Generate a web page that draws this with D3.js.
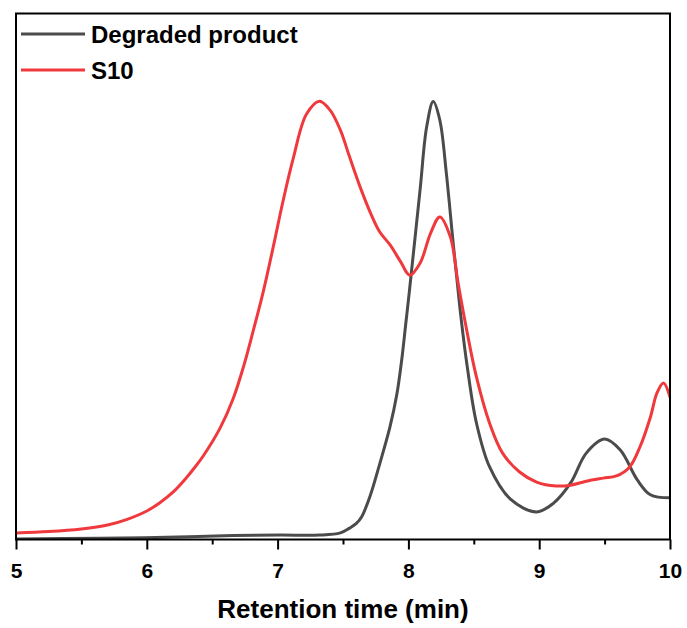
<!DOCTYPE html>
<html>
<head>
<meta charset="utf-8">
<script src="https://cdn.jsdelivr.net/npm/d3@7"></script>
<style>
  html, body { margin: 0; padding: 0; background: #fff; }
  svg { display: block; }
  text { font-family: "Liberation Sans", Arial, sans-serif; font-weight: bold; fill: #000; }
</style>
</head>
<body>
<svg id="chart" width="687" height="628"></svg>
<script>
// ---- Data ----
const seriesNames = ["Degraded product", "S10"];
const seriesColors = ["#4b4b4b", "#f0393c"];

const degradedTime = [5.00, 5.64, 6.15, 6.66, 7.02, 7.32, 7.48, 7.55, 7.60, 7.643, 7.706, 7.783, 7.859, 7.911, 7.949, 7.979, 8.007, 8.089, 8.14, 8.19, 8.24, 8.29, 8.34, 8.37, 8.40, 8.45, 8.52, 8.62, 8.78, 8.98, 9.11, 9.24, 9.36, 9.50, 9.62, 9.75, 9.85, 10.00];
const degradedSignal = [0.001, 0.003, 0.005, 0.009, 0.010, 0.010, 0.015, 0.026, 0.036, 0.052, 0.098, 0.175, 0.257, 0.330, 0.410, 0.490, 0.565, 0.797, 0.942, 0.999, 0.957, 0.836, 0.683, 0.597, 0.512, 0.394, 0.266, 0.166, 0.092, 0.063, 0.083, 0.129, 0.197, 0.229, 0.204, 0.136, 0.102, 0.095];

const s10Time = [5.00, 5.25, 5.50, 5.70, 5.85, 6.00, 6.10, 6.20, 6.30, 6.36, 6.43, 6.56, 6.66, 6.74, 6.81, 6.89, 6.97, 7.04, 7.12, 7.22, 7.32, 7.40, 7.48, 7.55, 7.63, 7.71, 7.78, 7.86, 7.94, 8.01, 8.09, 8.17, 8.24, 8.32, 8.38, 8.45, 8.52, 8.62, 8.72, 8.85, 8.98, 9.13, 9.24, 9.36, 9.49, 9.59, 9.69, 9.77, 9.85, 9.90, 9.95, 10.00];
const s10Signal = [0.015, 0.018, 0.024, 0.033, 0.046, 0.065, 0.084, 0.108, 0.140, 0.162, 0.190, 0.254, 0.321, 0.395, 0.472, 0.565, 0.672, 0.770, 0.870, 0.970, 1.000, 0.980, 0.934, 0.873, 0.805, 0.745, 0.702, 0.672, 0.634, 0.603, 0.631, 0.699, 0.736, 0.691, 0.585, 0.471, 0.371, 0.266, 0.197, 0.154, 0.131, 0.122, 0.124, 0.133, 0.140, 0.145, 0.165, 0.211, 0.279, 0.334, 0.357, 0.325];

const xTicks = [5, 6, 7, 8, 9, 10];
const xMinorTicks = [5.5, 6.5, 7.5, 8.5, 9.5];
const xLabel = "Retention time (min)";

// ---- Layout ----
const svg = d3.select("#chart");
const mLeft = 16, mRight = 670, mTop = 13.5, mBottom = 539.5;

const x = d3.scaleLinear().domain([5, 10]).range([mLeft, mRight]);
const y = d3.scaleLinear().domain([0, 1.2]).range([mBottom, mTop]);

svg.append("defs").append("clipPath").attr("id", "plotClip")
  .append("rect").attr("x", mLeft).attr("y", mTop)
  .attr("width", mRight - mLeft).attr("height", mBottom - mTop);

const series = [
  degradedTime.map((t, i) => [t, degradedSignal[i]]),
  s10Time.map((t, i) => [t, s10Signal[i]])
];

const line = d3.line()
  .x(d => x(d[0]))
  .y(d => y(d[1]))
  .curve(d3.curveCatmullRom.alpha(0.5));

const plot = svg.append("g").attr("clip-path", "url(#plotClip)");
series.forEach((s, i) => {
  plot.append("path")
    .datum(s)
    .attr("fill", "none")
    .attr("stroke", seriesColors[i])
    .attr("stroke-width", 3)
    .attr("stroke-linejoin", "round")
    .attr("stroke-linecap", "round")
    .attr("d", line);
});

// Frame
svg.append("rect")
  .attr("x", mLeft).attr("y", mTop)
  .attr("width", mRight - mLeft).attr("height", mBottom - mTop)
  .attr("fill", "none").attr("stroke", "#000").attr("stroke-width", 2);

// Bottom axis with major + minor ticks
const axisMajor = d3.axisBottom(x).tickValues(xTicks).tickSize(10).tickPadding(6).tickFormat(d3.format("d"));
const gx = svg.append("g").attr("transform", `translate(0,${mBottom})`).call(axisMajor);
gx.select(".domain").remove();
gx.selectAll(".tick line").attr("stroke", "#000").attr("stroke-width", 2);
gx.selectAll(".tick text")
  .attr("font-size", 21)
  .attr("font-family", "'Liberation Sans', Arial, sans-serif")
  .attr("font-weight", "bold")
  .attr("fill", "#000")
  .attr("dy", null)
  .attr("y", 38);

const axisMinor = d3.axisBottom(x).tickValues(xMinorTicks).tickSize(5).tickFormat("");
const gm = svg.append("g").attr("transform", `translate(0,${mBottom})`).call(axisMinor);
gm.select(".domain").remove();
gm.selectAll(".tick line").attr("stroke", "#000").attr("stroke-width", 2);

// Axis title
svg.append("text")
  .attr("x", (mLeft + mRight) / 2)
  .attr("y", 618)
  .attr("text-anchor", "middle")
  .attr("font-size", 26)
  .text(xLabel);

// Legend
const legend = svg.append("g");
seriesNames.forEach((name, i) => {
  const ly = 34 + i * 36;
  legend.append("line")
    .attr("x1", 21).attr("x2", 85)
    .attr("y1", ly).attr("y2", ly)
    .attr("stroke", seriesColors[i]).attr("stroke-width", 3);
  legend.append("text")
    .attr("x", 91)
    .attr("y", ly + 9)
    .attr("font-size", 24)
    .text(name);
});
</script>
</body>
</html>
